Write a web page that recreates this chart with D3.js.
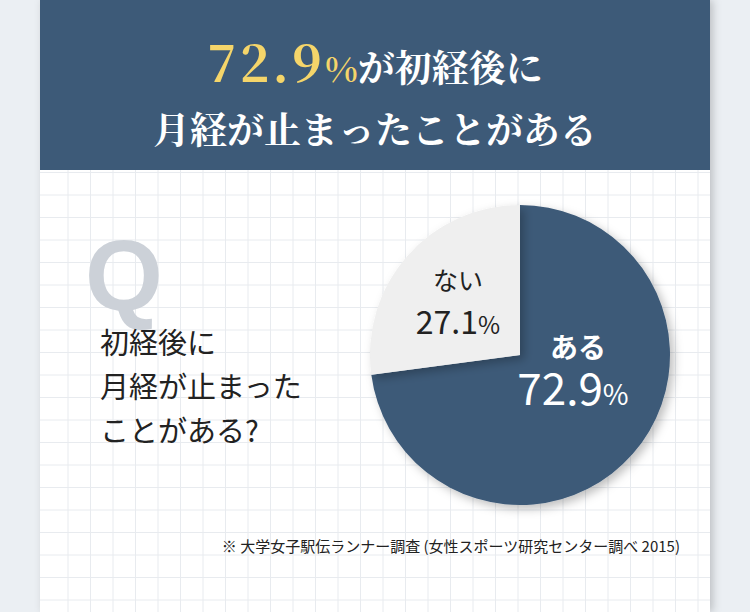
<!DOCTYPE html><html><head><meta charset="utf-8"><script src="https://cdn.jsdelivr.net/npm/d3@7"></script>
<style>body{margin:0;background:#ebeff3}svg{display:block}</style></head><body><script>
const categories=["ある","ない"];
const values=[72.9,27.1];
const labels=["72.9%","27.1%"];
const W=750,H=612;
const svg=d3.select("body").append("svg").attr("width",W).attr("height",H);
const defs=svg.append("defs");
const sh=defs.append("filter").attr("id","sh").attr("x","-20%").attr("y","-20%").attr("width","140%").attr("height","140%");
sh.append("feDropShadow").attr("dx",4).attr("dy",4).attr("stdDeviation",5).attr("flood-color","#000").attr("flood-opacity",0.25);
const cs=defs.append("filter").attr("id","cs").attr("x","-10%").attr("width","120%");
cs.append("feDropShadow").attr("dx",3).attr("dy",0).attr("stdDeviation",4).attr("flood-color","#000").attr("flood-opacity",0.2);
svg.append("rect").attr("width",W).attr("height",H).attr("fill","#ebeff3");
svg.append("rect").attr("x",40).attr("y",0).attr("width",670).attr("height",H).attr("fill","#fff").attr("filter","url(#cs)");
const g=svg.append("g");
d3.range(68,710,22.5).forEach(x=>g.append("line").attr("x1",x).attr("x2",x).attr("y1",170).attr("y2",H).attr("stroke","#e8ebef"));
d3.range(172.5,H,22.5).forEach(y=>g.append("line").attr("x1",40).attr("x2",710).attr("y1",y).attr("y2",y).attr("stroke","#e8ebef"));
svg.append("rect").attr("x",40).attr("y",0).attr("width",670).attr("height",170).attr("fill","#3d5a78");
const serif="'Noto Serif CJK JP','DejaVu Serif',serif";
const t1=svg.append("text").attr("x",375).attr("y",82).attr("text-anchor","middle").attr("font-family",serif).attr("font-weight","bold");
t1.append("tspan").attr("fill","#f5d56a").attr("font-size",50).attr("letter-spacing",3).text("72.9");
t1.append("tspan").attr("fill","#f5d56a").attr("font-size",34).text("%");
t1.append("tspan").attr("fill","#fff").attr("font-size",37).text("が初経後に");
svg.append("text").attr("x",375).attr("y",144).attr("text-anchor","middle").attr("font-family",serif).attr("font-weight","bold").attr("fill","#fff").attr("font-size",37).text("月経が止まったことがある");
svg.append("text").attr("x",85).attr("y",310).attr("font-family","Arial,Liberation Sans,sans-serif").attr("font-weight","bold").attr("font-size",100).attr("fill","#ccd1d8").text("Q");
const q=["初経後に","月経が止まった","ことがある?"];
const f="'Noto Sans CJK JP',sans-serif";
q.forEach((s,i)=>svg.append("text").attr("x",100).attr("y",354+i*44).attr("font-family",f).attr("font-size",29).attr("fill","#222").text(s));
const cx=520,cy=355,r=150;
const pie=d3.pie().sort(null).value(d=>d)(values);
const arc=d3.arc().innerRadius(0).outerRadius(r);
const pg=svg.append("g").attr("transform",`translate(${cx},${cy})`);
pg.selectAll("path").data(pie).join("path").attr("d",arc).attr("fill",(d,i)=>i?"#efefef":"#3d5a78").attr("filter","url(#sh)");
svg.append("text").attr("x",578).attr("y",358).attr("text-anchor","middle").attr("font-family",f).attr("font-weight","bold").attr("font-size",28).attr("fill","#fff").text(categories[0]);
const l0=svg.append("text").attr("x",573).attr("y",405).attr("text-anchor","middle").attr("font-family",f).attr("fill","#fff");
l0.append("tspan").attr("font-size",44).text(labels[0].slice(0,-1));l0.append("tspan").attr("font-size",28).text("%");
svg.append("text").attr("x",458).attr("y",290).attr("text-anchor","middle").attr("font-family",f).attr("font-size",25).attr("fill","#222").text(categories[1]);
const l1=svg.append("text").attr("x",458).attr("y",334).attr("text-anchor","middle").attr("font-family",f).attr("fill","#222");
l1.append("tspan").attr("font-size",32).text(labels[1].slice(0,-1));l1.append("tspan").attr("font-size",24).text("%");
svg.append("text").attr("x",680).attr("y",552).attr("text-anchor","end").attr("font-family",f).attr("font-size",15).attr("fill","#222").text("※ 大学女子駅伝ランナー調査 (女性スポーツ研究センター調べ 2015)");
</script></body></html>
